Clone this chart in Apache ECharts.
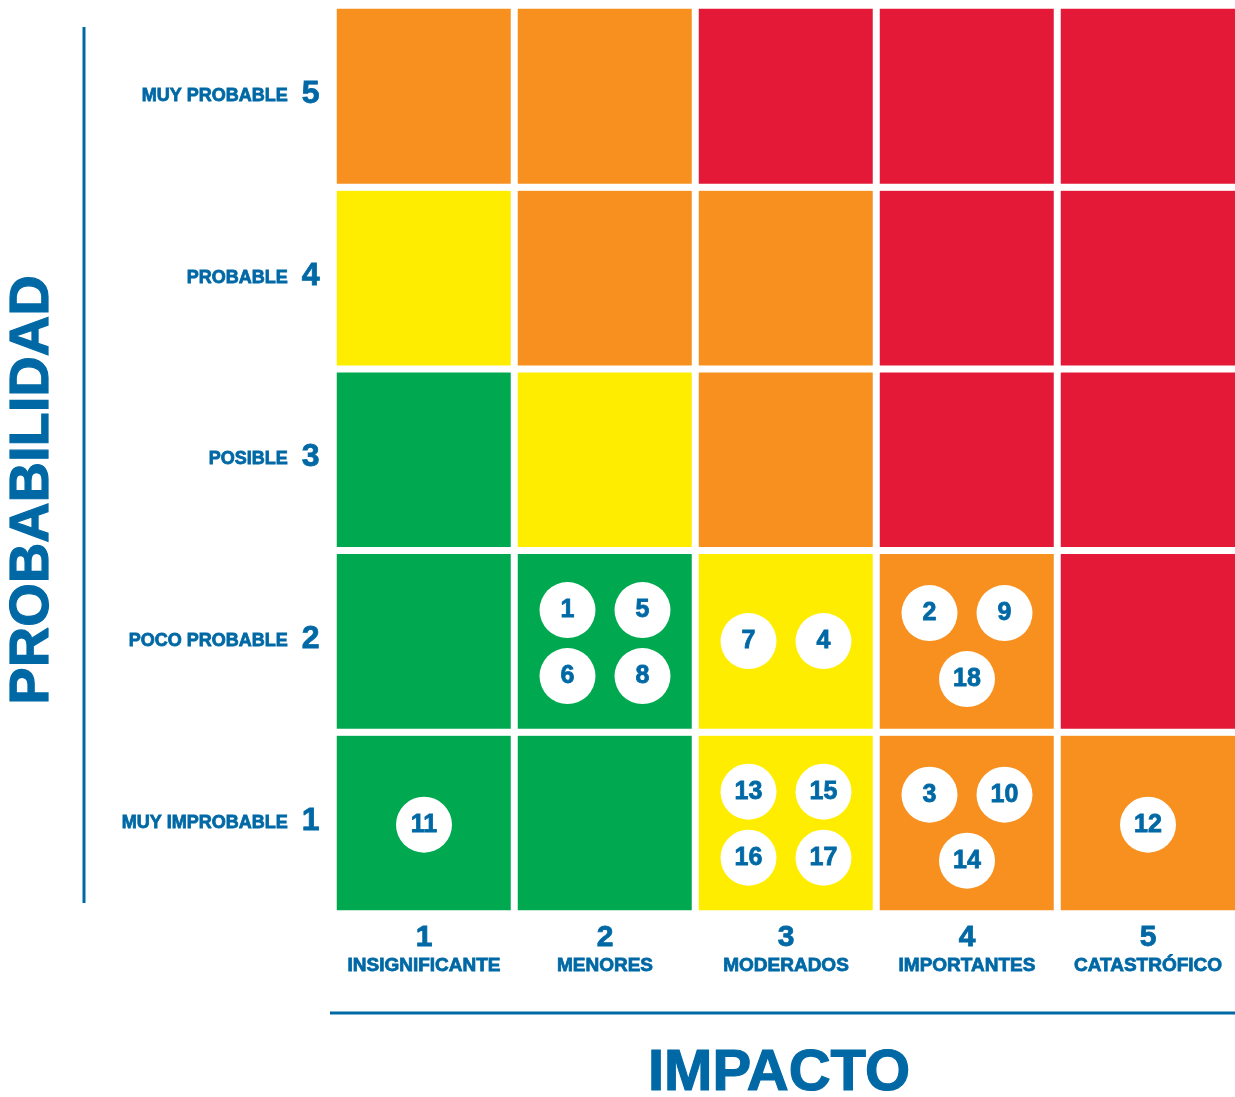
<!DOCTYPE html>
<html>
<head>
<meta charset="utf-8">
<script src="https://cdn.jsdelivr.net/npm/echarts@6/dist/echarts.min.js"></script>
<style>
  html, body { margin: 0; padding: 0; background: #fff; }
  #chart { width: 1235px; height: 1097px; }
</style>
</head>
<body>
<div id="chart"></div>
<script>
const impactNums = ['1', '2', '3', '4', '5']
const impactNames = ['INSIGNIFICANTE', 'MENORES', 'MODERADOS', 'IMPORTANTES', 'CATASTRÓFICO']
const probNums = ['1', '2', '3', '4', '5']
const probNames = ['MUY IMPROBABLE', 'POCO PROBABLE', 'POSIBLE', 'PROBABLE', 'MUY PROBABLE']

// nivel por fila de probabilidad (1..5), columnas = impacto 1..5
// 1 bajo, 2 moderado, 3 alto, 4 extremo
const riskLevels = [
  [1, 1, 2, 3, 3],
  [1, 1, 2, 3, 4],
  [1, 2, 3, 4, 4],
  [2, 3, 3, 4, 4],
  [3, 3, 4, 4, 4]
]

// riesgos identificados
const riskIds = [1, 5, 6, 8, 7, 4, 2, 9, 18, 11, 13, 15, 16, 17, 3, 10, 14, 12]
const riskImpact = [2, 2, 2, 2, 3, 3, 4, 4, 4, 1, 3, 3, 3, 3, 4, 4, 4, 5]
const riskProb = [2, 2, 2, 2, 2, 2, 2, 2, 2, 1, 1, 1, 1, 1, 1, 1, 1, 1]

const BLUE = '#0069a5'
const FONT = '"Liberation Sans", Arial, sans-serif'
const levelColors = { 1: '#00a94f', 2: '#ffed00', 3: '#f7901e', 4: '#e31937' }

// disposición de los círculos dentro de la celda según cuántos hay
const slotLayouts = {
  1: [[0, 2]],
  2: [[-37.5, 0], [37.5, 0]],
  3: [[-37.5, -28], [37.5, -28], [0, 38]],
  4: [[-37.5, -31], [37.5, -31], [-37.5, 35], [37.5, 35]]
}

const heatData = []
riskLevels.forEach((row, p) => {
  row.forEach((lvl, i) => heatData.push([i, p, lvl]))
})

const cellCount = {}
const scatterData = riskIds.map((id, k) => {
  const key = riskImpact[k] + '-' + riskProb[k]
  cellCount[key] = (cellCount[key] || 0) + 1
  return { key, slot: cellCount[key] - 1, id, value: [riskImpact[k] - 1, riskProb[k] - 1] }
}).map(d => ({
  value: d.value,
  id: d.id,
  symbolOffset: slotLayouts[cellCount[d.key]][d.slot]
}))

// trazo fino para engrosar la tipografía
const heavy = { textBorderColor: BLUE, textBorderWidth: 0.8 }

const chart = echarts.init(document.getElementById('chart'))

chart.setOption({
  animation: false,
  grid: {
    left: 333.5,
    right: -3.5,
    top: 5.5,
    bottom: 183.5,
    outerBoundsMode: 'none'
  },
  xAxis: {
    type: 'category',
    data: impactNums,
    axisLine: { show: false },
    axisTick: { show: false },
    splitLine: { show: false },
    axisLabel: {
      margin: 8,
      formatter: (v, i) => `{d|${v}}\n{n|${impactNames[i]}}`,
      rich: {
        d: { fontFamily: FONT, fontWeight: 'bold', fontSize: 30, lineHeight: 32, color: BLUE, ...heavy },
        n: { fontFamily: FONT, fontWeight: 'bold', fontSize: 19, lineHeight: 24, color: BLUE, ...heavy }
      }
    }
  },
  yAxis: {
    type: 'category',
    data: probNums,
    axisLine: { show: false },
    axisTick: { show: false },
    splitLine: { show: false },
    axisLabel: {
      margin: 14,
      formatter: (v, i) => `{n|${probNames[i]}}{d|${v}}`,
      rich: {
        n: { fontFamily: FONT, fontWeight: 'bold', fontSize: 18, color: BLUE, padding: [0, 14, 0, 0], ...heavy },
        d: { fontFamily: FONT, fontWeight: 'bold', fontSize: 32, color: BLUE, padding: [0, 0, 4, 0], ...heavy }
      }
    }
  },
  visualMap: {
    show: false,
    type: 'piecewise',
    dimension: 2,
    seriesIndex: 0,
    pieces: [
      { value: 1, color: levelColors[1] },
      { value: 2, color: levelColors[2] },
      { value: 3, color: levelColors[3] },
      { value: 4, color: levelColors[4] }
    ]
  },
  series: [
    {
      type: 'heatmap',
      data: heatData,
      itemStyle: { borderColor: '#fff', borderWidth: 7 },
      emphasis: { disabled: true },
      silent: true
    },
    {
      type: 'scatter',
      data: scatterData,
      symbol: 'circle',
      symbolSize: 56,
      z: 3,
      itemStyle: { color: '#fff', opacity: 1 },
      label: {
        show: true,
        position: 'inside',
        formatter: p => p.data.id,
        fontFamily: FONT,
        fontWeight: 'bold',
        fontSize: 25,
        color: BLUE,
        ...heavy
      },
      emphasis: { disabled: true },
      silent: true
    }
  ],
  graphic: [
    {
      type: 'line',
      shape: { x1: 84, y1: 27, x2: 84, y2: 903 },
      style: { stroke: BLUE, lineWidth: 3 }
    },
    {
      type: 'line',
      shape: { x1: 330, y1: 1013, x2: 1235, y2: 1013 },
      style: { stroke: BLUE, lineWidth: 3 }
    },
    {
      type: 'text',
      x: 33,
      y: 490,
      rotation: Math.PI / 2,
      style: {
        text: 'PROBABILIDAD',
        font: 'bold 56px ' + FONT,
        fill: BLUE,
        stroke: BLUE,
        lineWidth: 1.2,
        textAlign: 'center',
        textVerticalAlign: 'middle'
      }
    },
    {
      type: 'text',
      x: 779,
      y: 1074,
      style: {
        text: 'IMPACTO',
        font: 'bold 58px ' + FONT,
        fill: BLUE,
        stroke: BLUE,
        lineWidth: 1.2,
        textAlign: 'center',
        textVerticalAlign: 'middle'
      }
    }
  ]
})
</script>
</body>
</html>
